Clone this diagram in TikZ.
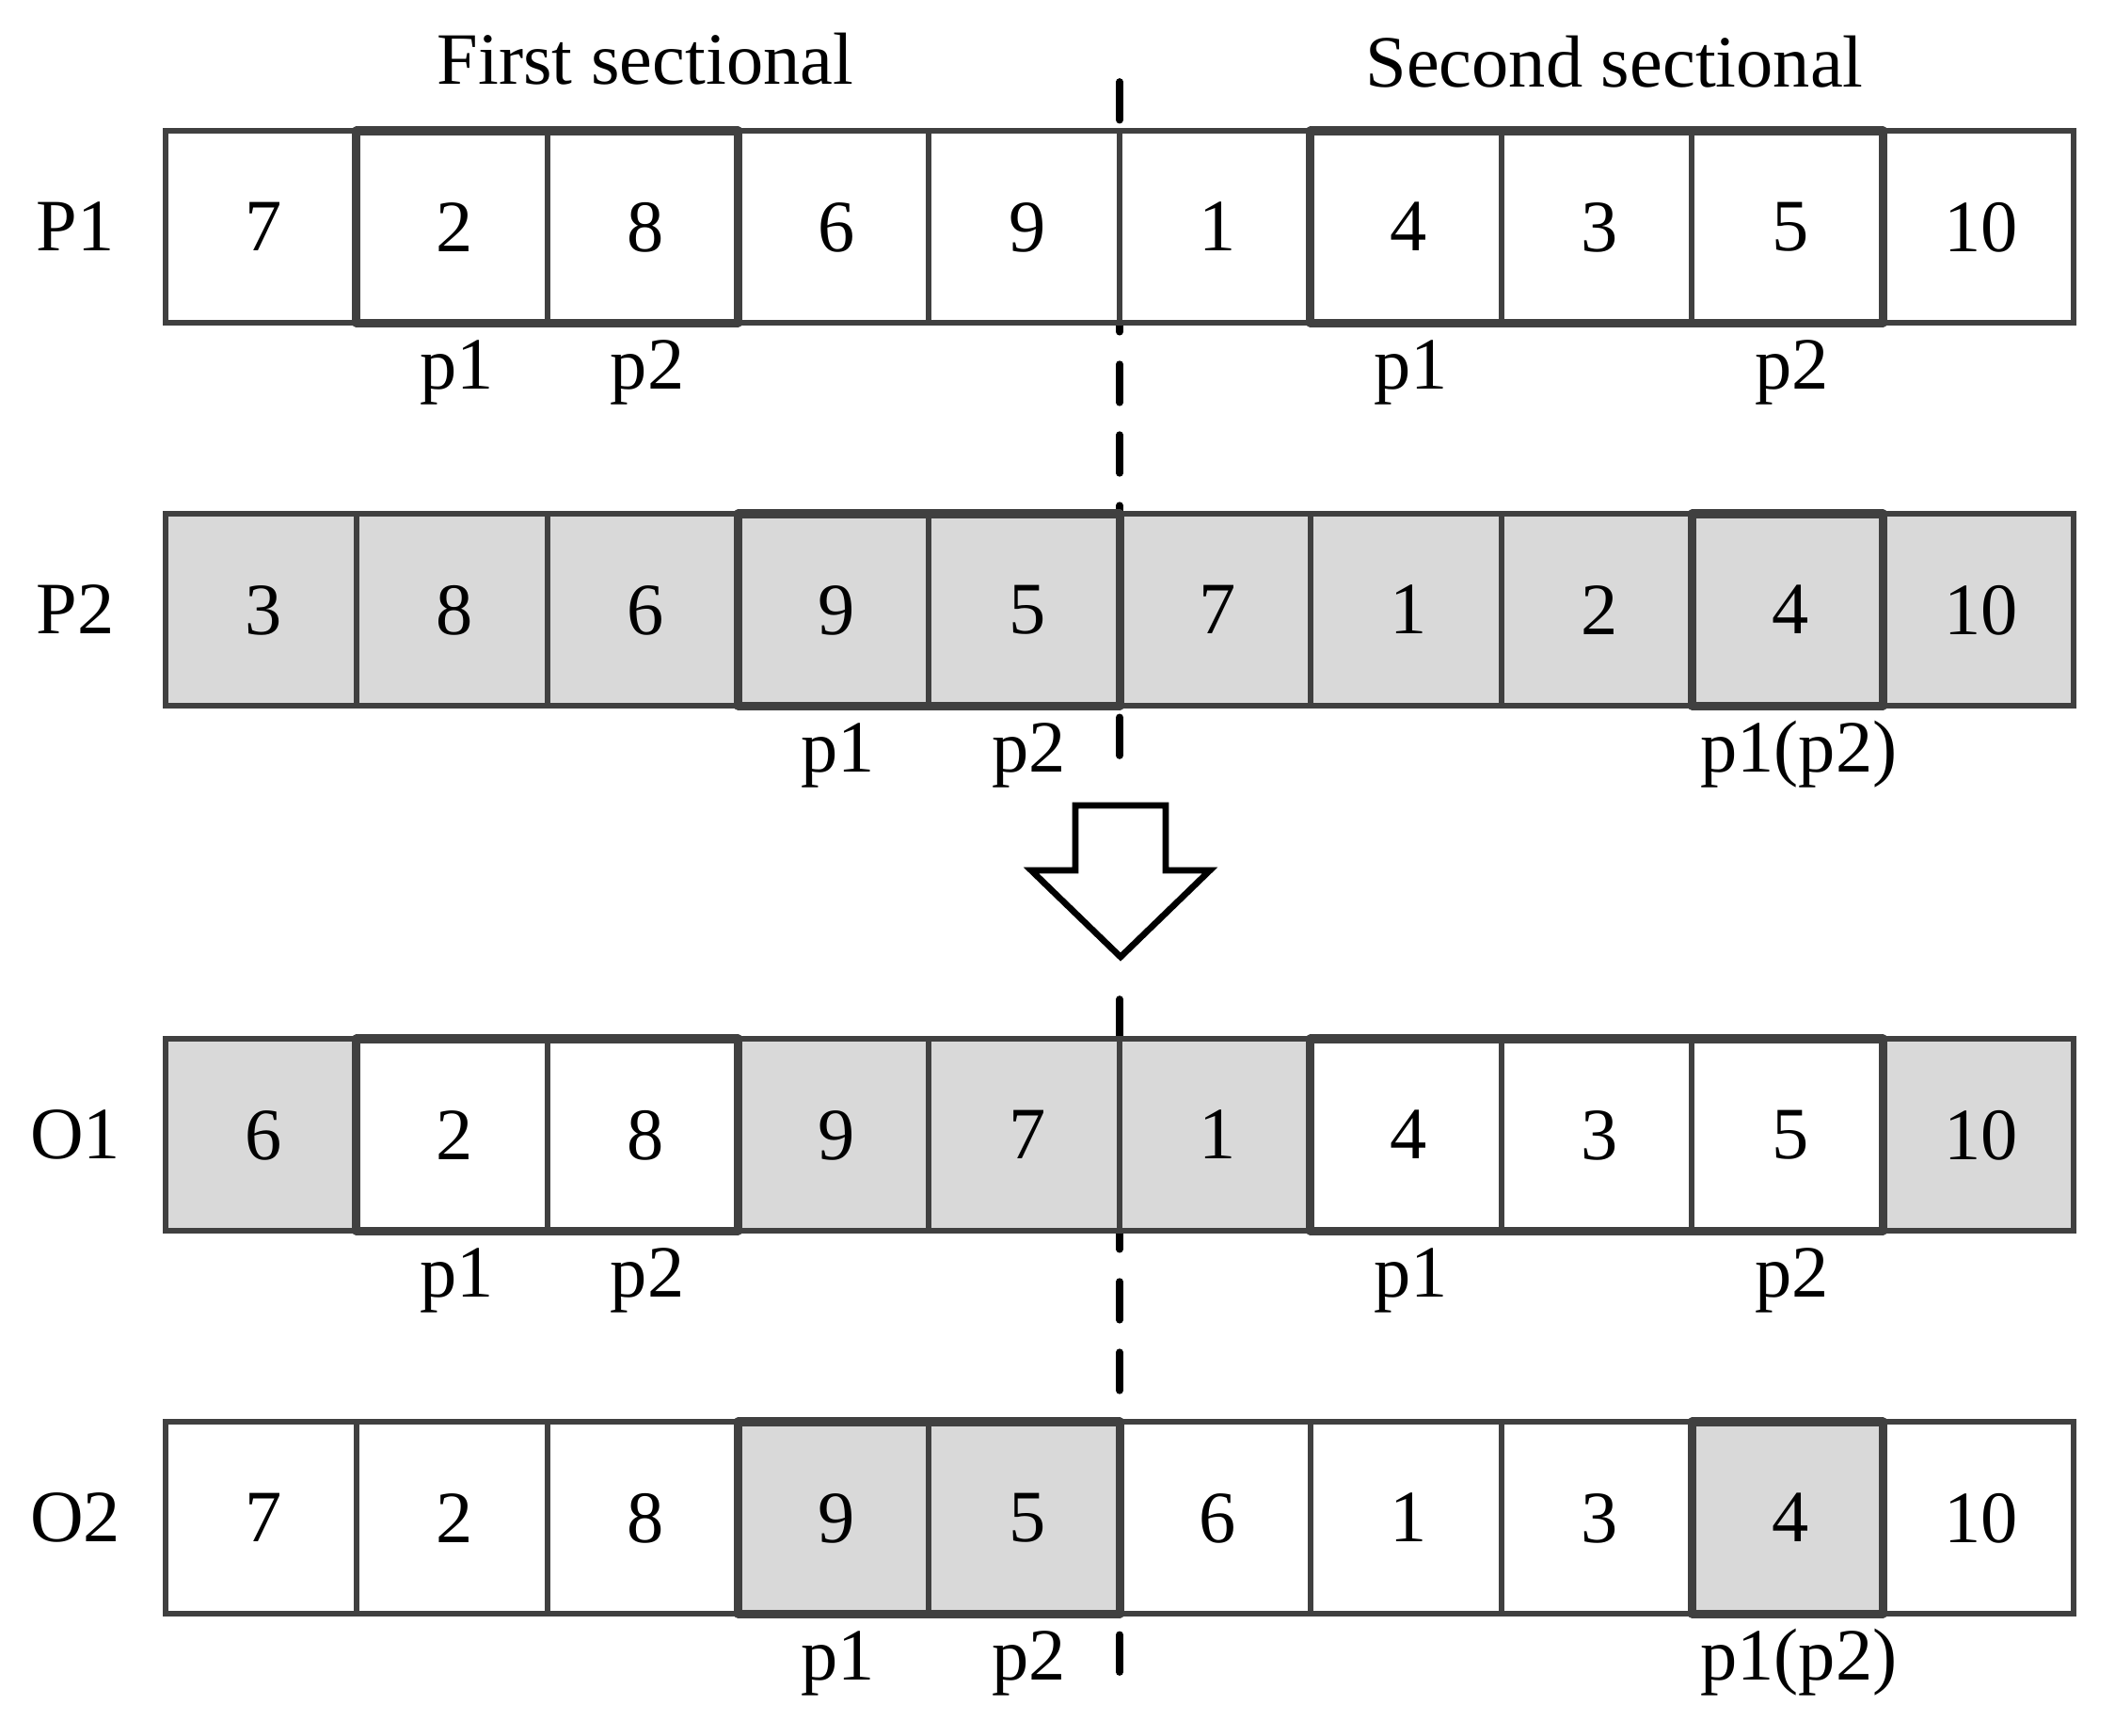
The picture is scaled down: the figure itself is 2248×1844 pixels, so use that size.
\documentclass[tikz,border=0pt]{standalone}
\usepackage{fontspec}
\setmainfont{Liberation Serif}
\usetikzlibrary{calc}
\definecolor{bord}{HTML}{404040}
\definecolor{cellgray}{HTML}{D9D9D9}
\newcommand\mainfs{\fontsize{22.3}{26}\selectfont}
\tikzset{
  cellbox/.style={draw=bord, line width=1.75pt, minimum width=2.028cm, minimum height=2.04cm,
    inner sep=0pt, outer sep=0pt, anchor=north west, font=\mainfs, text=black,
    text depth=0pt, execute at begin node={\hspace*{0.06cm}}},
  hl/.style={draw=bord, line width=2.6pt, line join=round},
  lab/.style={font=\mainfs, inner sep=0pt, anchor=base, text=black},
  sep/.style={draw=black, line width=2.2pt, line cap=round, dash pattern=on 0.405cm off 0.345cm},
  bigarrow/.style={draw=black, fill=white, line width=1.9pt, line join=miter}
}
\begin{document}
\begin{tikzpicture}[x=0.01cm,y=-0.01cm]
\fill[white] (0,0) rectangle (2248,1844);
\useasboundingbox (0,0) rectangle (2248,1844);

% dashed separator (behind cells)
\coordinate (d1) at (1190,87);
\coordinate (d2) at (1190,803);
\coordinate (d3) at (1190,1062);
\coordinate (d4) at (1190,1777);
\draw[sep] (d1) -- (d2);
\draw[sep] (d3) -- (d4);

% headers
\node[lab] (h1) at (686,89) {First sectional};
\node[lab] (h2) at (1716,92) {Second sectional};

% row P1
\foreach \v/\f [count=\i from 0] in {7/white,2/white,8/white,6/white,9/white,1/white,4/white,3/white,5/white,10/white}
  \node[cellbox, fill=\f] (P1c\i) at ({176+\i*202.8},139) {\v};
% row P2
\foreach \v/\f [count=\i from 0] in {3/cellgray,8/cellgray,6/cellgray,9/cellgray,5/cellgray,7/cellgray,1/cellgray,2/cellgray,4/cellgray,10/cellgray}
  \node[cellbox, fill=\f] (P2c\i) at ({176+\i*202.8},546) {\v};
% row O1
\foreach \v/\f [count=\i from 0] in {6/cellgray,2/white,8/white,9/cellgray,7/cellgray,1/cellgray,4/white,3/white,5/white,10/cellgray}
  \node[cellbox, fill=\f] (O1c\i) at ({176+\i*202.8},1104) {\v};
% row O2
\foreach \v/\f [count=\i from 0] in {7/white,2/white,8/white,9/cellgray,5/cellgray,6/white,1/white,3/white,4/cellgray,10/white}
  \node[cellbox, fill=\f] (O2c\i) at ({176+\i*202.8},1511) {\v};

% highlighted groups
\draw[hl] (P1c1.north west) rectangle (P1c2.south east);
\draw[hl] (P1c6.north west) rectangle (P1c8.south east);
\draw[hl] (P2c3.north west) rectangle (P2c4.south east);
\draw[hl] (P2c8.north west) rectangle (P2c8.south east);
\draw[hl] (O1c1.north west) rectangle (O1c2.south east);
\draw[hl] (O1c6.north west) rectangle (O1c8.south east);
\draw[hl] (O2c3.north west) rectangle (O2c4.south east);
\draw[hl] (O2c8.north west) rectangle (O2c8.south east);

% row labels
\node[lab] (lP1) at (80,266) {P1};
\node[lab] (lP2) at (80,673) {P2};
\node[lab] (lO1) at (80,1231) {O1};
\node[lab] (lO2) at (80,1638) {O2};

% point labels
\node[lab] (P1p1) at ($(P1c1.south)+(5,70)$) {p1};
\node[lab] (P1p2) at ($(P1c2.south)+(5,70)$) {p2};
\node[lab] (P1q1) at ($(P1c6.south)+(5,70)$) {p1};
\node[lab] (P1q2) at ($(P1c8.south)+(5,70)$) {p2};
\node[lab] (P2p1) at ($(P2c3.south)+(5,70)$) {p1};
\node[lab] (P2p2) at ($(P2c4.south)+(5,70)$) {p2};
\node[lab] (P2q) at ($(P2c8.south)+(12,70)$) {p1(p2)};
\node[lab] (O1p1) at ($(O1c1.south)+(5,70)$) {p1};
\node[lab] (O1p2) at ($(O1c2.south)+(5,70)$) {p2};
\node[lab] (O1q1) at ($(O1c6.south)+(5,70)$) {p1};
\node[lab] (O1q2) at ($(O1c8.south)+(5,70)$) {p2};
\node[lab] (O2p1) at ($(O2c3.south)+(5,70)$) {p1};
\node[lab] (O2p2) at ($(O2c4.south)+(5,70)$) {p2};
\node[lab] (O2q) at ($(O2c8.south)+(12,70)$) {p1(p2)};

% block arrow
\draw[bigarrow] (1143,856) -- (1143,925) -- (1096,925) -- (1191,1017) -- (1286,925)
  -- (1239,925) -- (1239,856) -- cycle;
\end{tikzpicture}
\end{document}
